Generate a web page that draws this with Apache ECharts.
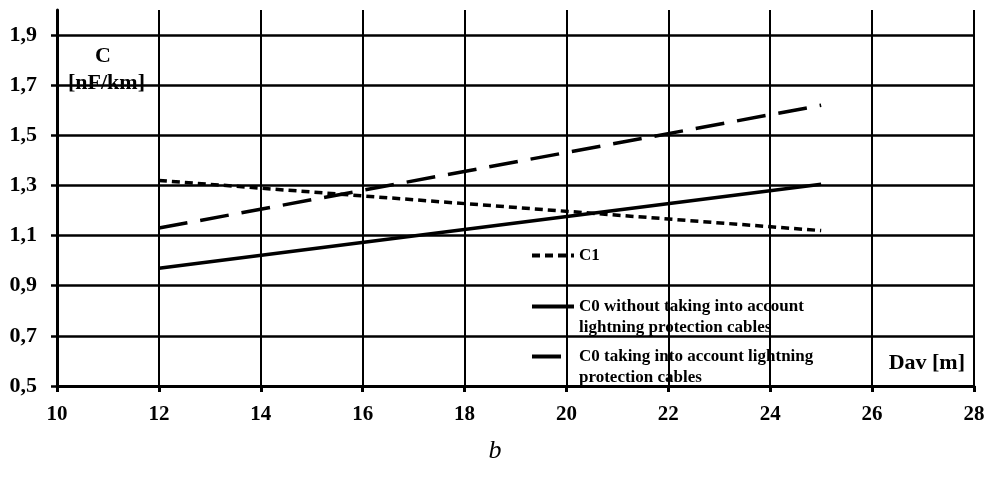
<!DOCTYPE html>
<html>
<head>
<meta charset="utf-8">
<script src="https://cdn.jsdelivr.net/npm/echarts@6/dist/echarts.min.js"></script>
<style>
  html, body { margin: 0; padding: 0; background: #fff; }
  #chart { width: 990px; height: 477px; }
</style>
</head>
<body>
<div id="chart"></div>
<script>
// values
const dav = [12, 25]
const c1 = [1.32, 1.12]
const c0Without = [0.97, 1.305]
const c0With = [1.13, 1.62]
const yTicks = [0.5, 0.7, 0.9, 1.1, 1.3, 1.5, 1.7, 1.9]

const names = [
    'C1',
    'C0 without taking into account\nlightning protection cables',
    'C0 taking into account lightning\nprotection cables'
]

const font = 'Liberation Serif'
const pairs = (xs, ys) => xs.map((x, i) => [x, ys[i]])

let chart = echarts.init(document.getElementById('chart'))

// one legend per entry; an empty first line keeps the icon on the first text line
function legendItem(name, top, twoLines) {
    return {
        data: [name],
        left: 530,
        top: top,
        padding: 0,
        orient: 'vertical',
        itemWidth: 42,
        itemHeight: 14,
        selectedMode: false,
        itemStyle: {opacity: 0},
        lineStyle: {width: 4},
        formatter: n => twoLines ? '\n' + n : n,
        textStyle: {fontFamily: font, fontWeight: 'bold', fontSize: 17, color: '#000', lineHeight: 21}
    }
}

chart.setOption({
    animation: false,
    grid: {left: 57, right: 16, top: 10, bottom: 91},
    title: {
        text: 'b',
        left: 'center',
        top: 433,
        textStyle: {fontFamily: font, fontStyle: 'italic', fontWeight: 'normal', fontSize: 26, color: '#000'}
    },
    legend: [
        legendItem(names[0], 245, false),
        legendItem(names[1], 275, true),
        legendItem(names[2], 325, true)
    ],
    xAxis: {
        type: 'value',
        min: 10,
        max: 28,
        interval: 2,
        axisLine: {lineStyle: {color: '#000', width: 3}},
        axisTick: {show: true, inside: false, length: 6, lineStyle: {color: '#000', width: 3}},
        axisLabel: {margin: 18, fontFamily: font, fontWeight: 'bold', fontSize: 21, color: '#000'},
        splitLine: {show: true, lineStyle: {color: '#000', width: 2}}
    },
    yAxis: {
        type: 'value',
        min: 0.5,
        max: 2.0,
        axisLine: {show: true, lineStyle: {color: '#000', width: 3}},
        axisTick: {show: true, length: 6, customValues: yTicks, lineStyle: {color: '#000', width: 2.5}},
        axisLabel: {
            margin: 20,
            customValues: yTicks,
            fontFamily: font, fontWeight: 'bold', fontSize: 22, color: '#000',
            formatter: v => v.toFixed(1).replace('.', ',')
        },
        splitLine: {show: true, lineStyle: {color: '#000', width: 2.5}}
    },
    graphic: [
        {
            type: 'text', left: 95, top: 45,
            style: {text: 'C', font: 'bold 22px "Liberation Serif"', fill: '#000'}
        },
        {
            type: 'text', left: 68, top: 72,
            style: {text: '[nF/km]', font: 'bold 22px "Liberation Serif"', fill: '#000'}
        },
        {
            type: 'text', right: 25, top: 352,
            style: {text: 'Dav [m]', font: 'bold 22px "Liberation Serif"', fill: '#000'}
        }
    ],
    series: [
        {
            name: names[0], type: 'line', data: pairs(dav, c1),
            symbol: 'none', showSymbol: false,
            lineStyle: {color: '#000', width: 3.5, type: [8, 5]},
            itemStyle: {color: '#000'}
        },
        {
            name: names[1], type: 'line', data: pairs(dav, c0Without),
            symbol: 'none', showSymbol: false,
            lineStyle: {color: '#000', width: 3.5, type: 'solid'},
            itemStyle: {color: '#000'}
        },
        {
            name: names[2], type: 'line', data: pairs(dav, c0With),
            symbol: 'none', showSymbol: false,
            lineStyle: {color: '#000', width: 3.5, type: [29, 13]},
            itemStyle: {color: '#000'}
        }
    ]
})
</script>
</body>
</html>
